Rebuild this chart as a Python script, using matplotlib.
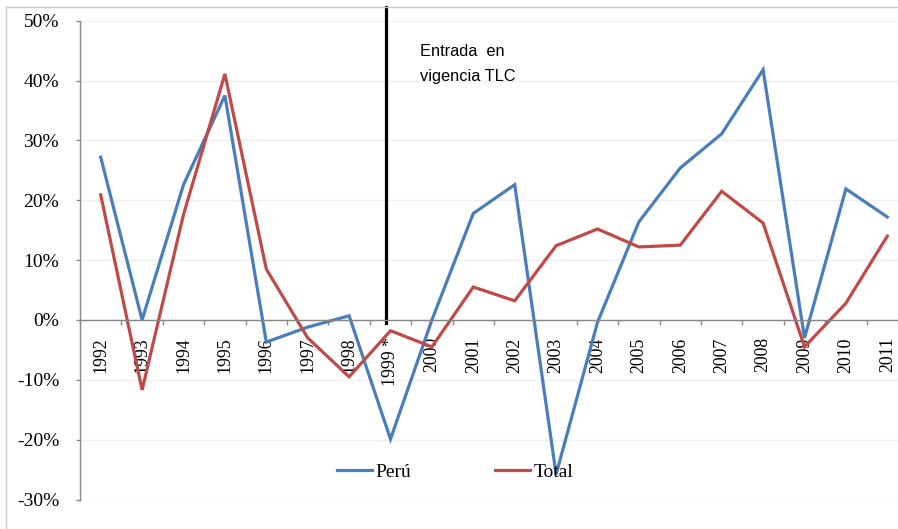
import numpy as np
import matplotlib
matplotlib.use("Agg")
import matplotlib.pyplot as plt
from matplotlib.lines import Line2D

# data (annual growth rate, %)
years = ['1992', '1993', '1994', '1995', '1996', '1997', '1998', '1999 *', '2000',
         '2001', '2002', '2003', '2004', '2005', '2006', '2007', '2008', '2009',
         '2010', '2011']
peru = [27.2, 0.0, 22.6, 37.5, -3.7, -1.2, 0.7, -19.9, 0.0, 17.8, 22.6, -25.8,
        -0.4, 16.4, 25.4, 31.1, 41.8, -3.0, 21.9, 17.2]
total = [20.9, -11.7, 17.6, 41.1, 8.5, -3.0, -9.5, -1.8, -4.5, 5.5, 3.2, 12.4,
         15.2, 12.2, 12.5, 21.5, 16.2, -4.5, 2.8, 14.0]
yticks = [-30, -20, -10, 0, 10, 20, 30, 40, 50]
tlc_pos = 6.9  # position of the "Entrada en vigencia TLC" marker

W, H = 898, 529
fig = plt.figure(figsize=(W / 100, H / 100), dpi=100)
fig.patch.set_facecolor('white')

ax = fig.add_axes([80 / W, 29.5 / H, 828 / W, 478.8 / H])
x = np.arange(len(years))

ax.plot(x, peru, color='#4a7ebb', lw=2.3, label='Perú', solid_joinstyle='miter')
ax.plot(x, total, color='#be4b48', lw=2.3, label='Total', solid_joinstyle='miter')

ax.set_xlim(-0.5, len(years) - 0.5)
ax.set_ylim(-30, 50)

gray = '#878787'
for s in ['top', 'right']:
    ax.spines[s].set_visible(False)
ax.spines['bottom'].set_position(('data', 0))
ax.spines['bottom'].set_color(gray)
ax.spines['left'].set_color(gray)
ax.spines['bottom'].set_linewidth(1.0)
ax.spines['left'].set_linewidth(1.0)

serif = 'Liberation Serif'
ax.set_yticks(yticks)
ax.set_yticklabels([f'{v}%' for v in yticks], family=serif, fontsize=14)
ax.tick_params(axis='y', direction='out', length=3, width=1, color=gray, pad=12)

ax.set_xticks(np.arange(-0.5, len(years), 1))
ax.set_xticklabels([])
ax.tick_params(axis='x', which='major', direction='out', length=3.3, width=1, color=gray)
ax.set_xticks(x, minor=True)
ax.set_xticklabels(years, minor=True, rotation=90, family=serif, fontsize=12.8)
ax.tick_params(axis='x', which='minor', length=0, pad=12.5)

ax.yaxis.grid(True, color='#efefef', lw=1)
ax.set_axisbelow(True)

# TLC marker line and note
ax.axvline(tlc_pos, ymin=(499.5 - 322.5) / 478.8, ymax=(499.5 - 7) / 478.8,
           color='black', lw=2.3, clip_on=False)
fig.text(420 / W, 1 - 52 / H, 'Entrada  en', family='Liberation Sans',
         fontsize=11.8, va='center', ha='left')
fig.text(420 / W, 1 - 76 / H, 'vigencia TLC', family='Liberation Sans',
         fontsize=11.8, va='center', ha='left')

leg = fig.legend(loc='center', bbox_to_anchor=(455 / W, 1 - 472 / H), ncol=2,
                 frameon=False, prop={'family': serif, 'size': 14},
                 handlelength=1.8, handletextpad=0.2, columnspacing=4.3,
                 borderpad=0, borderaxespad=0)

# chart frame (cropped)
fig.add_artist(Line2D([6 / W, 6 / W], [0, 1 - 7 / H], color='#c8c8c8', lw=1))
fig.add_artist(Line2D([6 / W, 1], [1 - 7 / H, 1 - 7 / H], color='#c8c8c8', lw=1))

fig.savefig('out.png', dpi=100)
